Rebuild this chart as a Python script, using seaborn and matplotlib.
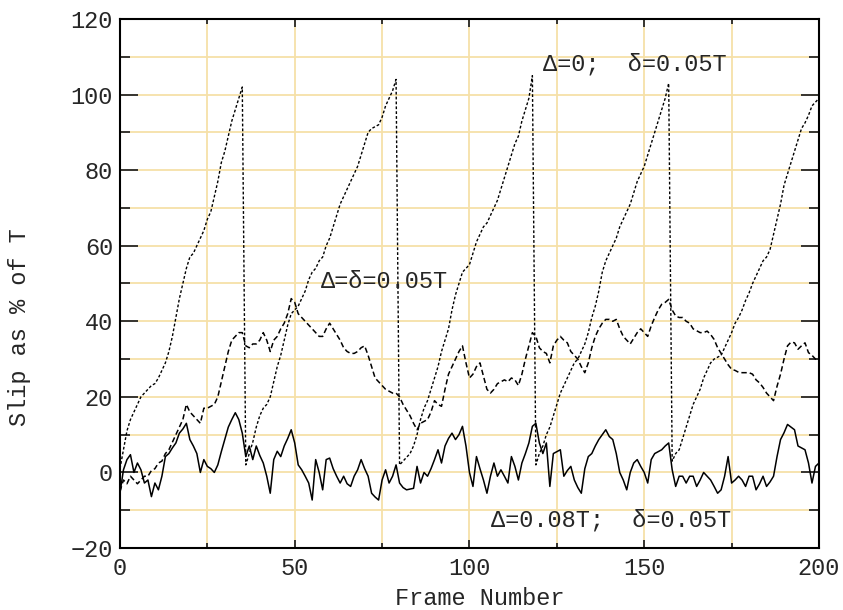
import matplotlib
matplotlib.use("Agg")
import matplotlib.pyplot as plt
from matplotlib.ticker import MultipleLocator
import seaborn as sns

# frame numbers 0..200
frames = list(range(201))

# slip (% of T) for delta=0 (sawtooth)
slip_zero = [
    1, 6, 11, 14, 16, 18, 20, 21, 22, 23,
    23.5, 25, 27, 29, 32, 36, 41, 46, 50, 54,
    57, 58, 60, 62, 64, 67, 69, 73, 77, 82,
    85, 89, 93, 96, 99, 102, 2, 5, 8, 12,
    15, 17, 18, 20, 24, 28, 31, 35, 39, 42,
    43, 44, 46, 48, 51, 53, 54, 56, 57, 60,
    62, 65, 68, 71, 73, 75, 77, 79, 81, 84,
    87, 90, 91, 91.5, 92, 94, 97, 99, 101, 104,
    2, 3, 4, 5, 7, 10, 14, 17, 19, 22,
    25, 28, 32, 35, 38, 43, 47, 50, 53, 54,
    55, 58, 61, 63, 65, 66, 68, 70, 72, 75,
    78, 81, 84, 87, 89, 93, 96, 99, 105, 2,
    5, 7, 10, 12, 15, 18, 21, 23, 25, 27,
    29, 30, 32, 34, 37, 41, 44, 48, 53, 56,
    58, 60, 62, 65, 67, 69, 71, 74, 77, 79,
    81, 84, 87, 90, 93, 96, 99, 103, 3, 5,
    6, 9, 12, 15, 18, 20, 22, 25, 27, 29,
    30, 30.5, 31, 33, 35, 37, 39.5, 41, 43, 45.5,
    47.5, 50, 52, 54, 56, 57, 59, 63, 67, 71,
    76, 79, 82, 85, 88, 91, 92.5, 94.5, 97, 98,
    99,
]

# slip for delta = dlt = 0.05T
slip_equal = [
    -5, -2, -3, -1, -2, -3, -2, -1, -1, 0.5,
    1, 2.5, 3, 5, 6, 8, 10, 12, 14, 18,
    16, 15, 14, 13, 17, 17, 17.5, 18, 20, 24,
    28, 32, 35, 36, 37, 37, 33.5, 33, 34, 34,
    35, 37, 35, 32, 35, 36, 38, 39.5, 42, 46,
    45, 42, 41, 40, 39, 38, 37, 36, 36, 38,
    39.5, 38, 36.5, 35, 33, 32, 31.5, 31.5, 32, 33,
    33.5, 31, 28, 25, 24, 23, 22, 21.5, 21, 21,
    20, 18, 16.5, 15, 13, 11.3, 13, 13.5, 14, 16,
    19, 18, 17.5, 22, 26, 28, 30, 32, 33.5, 29,
    25, 26, 28, 29, 25.5, 22, 21, 22, 23.5, 24,
    24.5, 24, 25, 24.5, 23, 26, 30, 33.5, 37, 36,
    33, 32, 31.5, 29, 33.5, 35, 36, 35, 34.3, 32,
    31, 30, 28, 26.4, 29, 33, 36, 38, 39.5, 40.5,
    40.5, 40, 40.5, 38, 36, 35, 34, 35.5, 37, 38,
    37, 36, 38.8, 41, 43, 44.5, 45, 45.8, 43, 41.4,
    41, 41, 40, 39.5, 38, 37.5, 37, 37, 37.4, 36.5,
    35.2, 33, 31.5, 30, 28.5, 27.3, 27, 26.5, 26.4, 26.4,
    26.4, 26, 24.5, 23.7, 22.5, 21, 20, 19, 22.8, 26,
    30, 33.5, 34.5, 34.3, 32.6, 33.5, 34.3, 31.7, 31, 30,
    29.5,
]

# slip for delta = 0.08T
slip_offset = [
    -5.5, 0.7, 3.4, 4.7, 0, 2.5, 0.7, -2.8, -2, -6.4,
    -2.8, -4.6, -1, 4.2, 5, 6.5, 7.8, 10.4, 11.5, 13,
    8.7, 7, 5, 0, 3.4, 1.6, 1, 0, 2, 5.5,
    8.7, 12, 14, 15.8, 14, 10.4, 4.2, 7, 3.4, 7,
    4.5, 2.5, -1, -5.5, 3.4, 5.6, 4.2, 7, 9, 11.3,
    7.8, 2, 0.7, -1, -2.8, -7.3, 3.4, 0, -4.6, 3.4,
    3.8, 1, -1, -2.8, -1, -3, -3.7, -1, 0.7, 3.4,
    1, -1, -5.5, -6.5, -7.3, -2, 0.7, -2.8, -1, 2,
    -2.8, -4, -4.6, -4.4, -4.2, 1.6, -2.8, 0, -1, 1,
    3.4, 6, 2.5, 7, 9, 10.4, 8.7, 10, 12.2, 7,
    0, -3.7, 4.2, 1, -2, -5.5, -1, 2.5, -1, 0.7,
    -1, -2.8, 4.2, 1.6, -2, 2.5, 5, 7.8, 12.2, 13,
    7.8, 5, 7.8, -3.7, 5, 5.5, 6, -1, 0.5, 1.6,
    -2, -4, -5.5, 1, 4.2, 5, 7, 8.7, 10, 11.3,
    9.5, 8.7, 5, 0, -2, -4.6, 0, 2.5, 3.4, 1.6,
    0, -2.8, 3.4, 5, 5.5, 6, 7, 7.8, 0.7, -3.7,
    -1, -1, -2.8, -1, -1, -3.7, -2, 0, -1, -2,
    -3.7, -5.5, -4.6, -1, 4.2, -2.8, -2, -1, -2, -3.7,
    -1, -1, -4.6, -3, -1, -3.7, -2.5, -1, 4.2, 8.7,
    10.5, 12.7, 12, 11.3, 7, 6.5, 6, 2.5, -2.8, 1.6,
    2.5,
]

x_ticks = [0, 50, 100, 150, 200]
y_ticks = [-20, 0, 20, 40, 60, 80, 100, 120]

label_zero = "\u0394=0;  \u03b4=0.05T"
label_equal = "\u0394=\u03b4=0.05T"
label_offset = "\u0394=0.08T;  \u03b4=0.05T"


def plot_slip():
    sns.set_style("white")
    plt.rcParams['font.family'] = ['Liberation Mono', 'DejaVu Sans Mono']

    fig = plt.figure(figsize=(8.43, 6.1), dpi=100)
    ax = fig.add_axes([0.1423, 0.1016, 0.8292, 0.8673])

    sns.lineplot(x=frames, y=slip_zero, ax=ax, color='black', lw=1.0,
                 linestyle=(0, (2, 1.5)))
    sns.lineplot(x=frames, y=slip_equal, ax=ax, color='black', lw=1.1,
                 linestyle=(0, (3.5, 2)))
    sns.lineplot(x=frames, y=slip_offset, ax=ax, color='black', lw=1.1)

    ax.set_xlim(0, 200)
    ax.set_ylim(-20, 120)
    ax.set_xticks(x_ticks)
    ax.set_yticks(y_ticks)
    ax.xaxis.set_minor_locator(MultipleLocator(25))
    ax.yaxis.set_minor_locator(MultipleLocator(10))

    ax.grid(which='both', color='#F6E0A8', lw=1.3)
    ax.set_axisbelow(True)

    ax.tick_params(axis='x', which='major', direction='in', length=6, width=1.3,
                   top=True, bottom=True, pad=6.5, labelsize=17)
    ax.tick_params(axis='x', which='minor', direction='in', length=3.5, width=1.3,
                   top=True, bottom=True)
    ax.tick_params(axis='y', which='major', direction='in', length=13, width=1.3,
                   left=True, right=True, pad=5, labelsize=17)
    ax.tick_params(axis='y', which='minor', direction='in', length=7.5, width=1.3,
                   left=True, right=True)
    for s in ax.spines.values():
        s.set_color('black')
        s.set_linewidth(1.5)

    ax.set_xlabel('Frame Number', fontsize=17)
    ax.set_ylabel('Slip as % of T', fontsize=17)
    ax.xaxis.set_label_coords(0.515, -0.074)
    ax.yaxis.set_label_coords(-0.127, 0.417)

    ax.text(121, 108.2, label_zero, fontsize=17, va='center', ha='left')
    ax.text(57.6, 50.6, label_equal, fontsize=17, va='center', ha='left')
    ax.text(106.3, -12.6, label_offset, fontsize=17, va='center', ha='left')

    fig.savefig('out.png', dpi=100)


if __name__ == "__main__":
    plot_slip()
